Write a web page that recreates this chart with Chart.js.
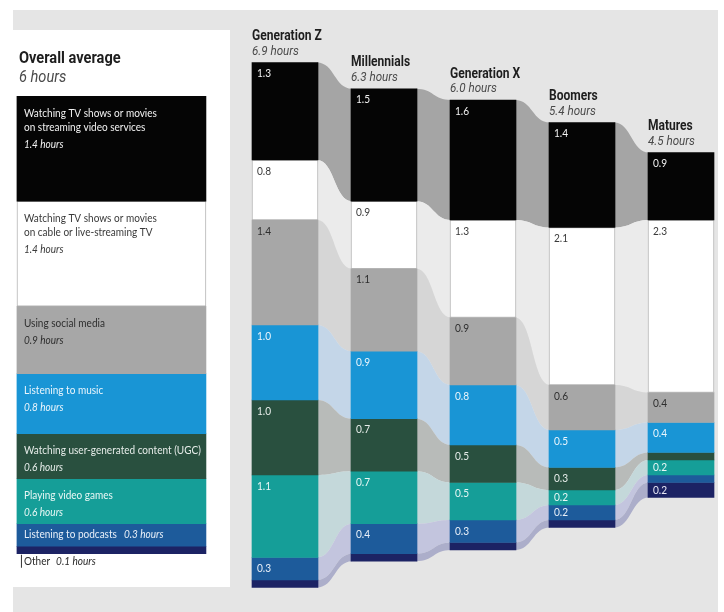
<!DOCTYPE html>
<html>
<head>
<meta charset="utf-8">
<script src="https://cdn.jsdelivr.net/npm/chart.js@4.4.1/dist/chart.umd.min.js"></script>
<style>
  html, body { margin: 0; padding: 0; background: #fff; }
  #wrap { position: relative; width: 724px; height: 612px; overflow: hidden; }
  #bg { position: absolute; left: 13px; top: 10px; width: 705px; height: 602px; background: #e5e5e5; }
  #panel { position: absolute; left: 13px; top: 30px; width: 217px; height: 557px; background: #fff; }
  #chart { position: absolute; left: 0; top: 0; }
</style>
</head>
<body>
<div id="wrap">
  <div id="bg"></div>
  <div id="panel"></div>
  <canvas id="chart" width="724" height="612"></canvas>
</div>
<script>
// data
const generations = ["Generation Z", "Millennials", "Generation X", "Boomers", "Matures"];
const generationTotals = ["6.9", "6.3", "6.0", "5.4", "4.5"];
const categoryLabels = [
  ["Watching TV shows or movies", "on streaming video services"],
  ["Watching TV shows or movies", "on cable or live-streaming TV"],
  ["Using social media"],
  ["Listening to music"],
  ["Watching user-generated content (UGC)"],
  ["Playing video games"],
  ["Listening to podcasts"],
  ["Other"]
];
const overallTotal = "6";
const overall = [1.4, 1.4, 0.9, 0.8, 0.6, 0.6, 0.3, 0.1];

const streaming = [1.3, 1.5, 1.6, 1.4, 0.9];
const cableTv = [0.8, 0.9, 1.3, 2.1, 2.3];
const socialMedia = [1.4, 1.1, 0.9, 0.6, 0.4];
const music = [1.0, 0.9, 0.8, 0.5, 0.4];
const ugc = [1.0, 0.7, 0.5, 0.3, 0.1];
const videoGames = [1.1, 0.7, 0.5, 0.2, 0.2];
const podcasts = [0.3, 0.4, 0.3, 0.2, 0.1];
const other = [0.1, 0.1, 0.1, 0.1, 0.2];

const series = [streaming, cableTv, socialMedia, music, ugc, videoGames, podcasts, other];

// styles
const barColors = ["#050505", "#ffffff", "#a7a7a7", "#1995d5", "#29503f", "#159e98", "#1d5b9b", "#1c2364"];
const flowColors = ["#a5a5a5", "#ebebeb", "#d6d6d6", "#c4d6e8", "#b8bbb9", "#c4d8da", "#c3c5de", "#acaeca"];
const textColors = ["#f2f2f2", "#3a3a3a", "#2e2e2e", "#eaf5fc", "#e6ece9", "#e8f7f5", "#e8eff8", "#e8e8f5"];

const TITLE_FONT = 'Roboto, Lato, sans-serif';
const LABEL_FONT = 'Lato, "Noto Sans", sans-serif';
const OVERALL_X = -1.753;

// stack centred on zero, from the top down
function stackRanges(values) {
  const total = values.reduce((a, b) => a + b, 0);
  let top = total / 2;
  return values.map(v => {
    const r = [top - v, top];
    top -= v;
    return r;
  });
}

const genRanges = generations.map((g, i) => stackRanges(series.map(s => s[i])));
const overallRanges = stackRanges(overall);

const datasets = [];
series.forEach((s, c) => {
  datasets.push({
    label: categoryLabels[c].join(" "),
    data: generations.map((g, i) => ({ x: i, y: genRanges[i][c] })),
    backgroundColor: barColors[c],
    borderColor: c === 1 ? "#b4b4b4" : barColors[c],
    borderWidth: c === 1 ? 1 : 0,
    borderSkipped: false,
    barThickness: 66,
    grouped: false
  });
});
overall.forEach((v, c) => {
  datasets.push({
    label: "overall " + c,
    data: [{ x: OVERALL_X, y: overallRanges[c] }],
    backgroundColor: barColors[c],
    borderColor: c === 1 ? "#b4b4b4" : barColors[c],
    borderWidth: c === 1 ? 1 : 0,
    borderSkipped: false,
    barThickness: 189,
    grouped: false
  });
});

function box(el) {
  const p = el.getProps(["x", "y", "base", "width"], true);
  return {
    left: p.x - p.width / 2,
    right: p.x + p.width / 2,
    top: Math.min(p.y, p.base),
    bottom: Math.max(p.y, p.base)
  };
}

// condensed-looking text: squeeze horizontally
function squeezeText(ctx, text, x, y, sx) {
  ctx.save();
  ctx.translate(x, y);
  ctx.scale(sx, 1);
  ctx.fillText(text, 0, 0);
  const w = ctx.measureText(text).width * sx;
  ctx.restore();
  return w;
}

const flows = {
  id: "flows",
  beforeDatasetsDraw(chart) {
    const ctx = chart.ctx;
    ctx.save();
    series.forEach((s, c) => {
      const meta = chart.getDatasetMeta(c);
      ctx.fillStyle = flowColors[c];
      for (let i = 0; i < meta.data.length - 1; i++) {
        const a = box(meta.data[i]);
        const b = box(meta.data[i + 1]);
        const x1 = a.right - 1, x2 = b.left + 1;
        const xm = (x1 + x2) / 2;
        ctx.beginPath();
        ctx.moveTo(x1, a.top);
        ctx.bezierCurveTo(xm, a.top, xm, b.top, x2, b.top);
        ctx.lineTo(x2, b.bottom);
        ctx.bezierCurveTo(xm, b.bottom, xm, a.bottom, x1, a.bottom);
        ctx.closePath();
        ctx.fill();
      }
    });
    ctx.restore();
  }
};

const labels = {
  id: "labels",
  afterDatasetsDraw(chart) {
    const ctx = chart.ctx;
    ctx.save();
    ctx.textBaseline = "middle";
    ctx.textAlign = "left";

    // values inside the generation bars
    ctx.font = "11px " + LABEL_FONT;
    series.forEach((s, c) => {
      const meta = chart.getDatasetMeta(c);
      meta.data.forEach((el, i) => {
        if (s[i] < 0.2) return;
        const b = box(el);
        const h = b.bottom - b.top;
        ctx.fillStyle = textColors[c];
        squeezeText(ctx, s[i].toFixed(1), b.left + 5, b.top + Math.min(11, h / 2), 0.92);
      });
    });

    // generation headings
    const first = chart.getDatasetMeta(0);
    first.data.forEach((el, i) => {
      const b = box(el);
      ctx.fillStyle = "#1e1e1e";
      ctx.font = "bold 14px " + TITLE_FONT;
      squeezeText(ctx, generations[i], b.left, b.top - 26, 0.86);
      ctx.fillStyle = "#4a4a4a";
      ctx.font = "italic 13.5px " + TITLE_FONT;
      squeezeText(ctx, generationTotals[i] + " hours", b.left, b.top - 11, 0.86);
    });

    // overall panel
    const ov = box(chart.getDatasetMeta(series.length).data[0]);
    ctx.fillStyle = "#1e1e1e";
    ctx.font = "bold 17px " + TITLE_FONT;
    squeezeText(ctx, "Overall average", ov.left + 2, ov.top - 38, 0.86);
    ctx.fillStyle = "#4a4a4a";
    ctx.font = "italic 17px " + TITLE_FONT;
    squeezeText(ctx, overallTotal + " hours", ov.left + 2, ov.top - 19, 0.86);

    overall.forEach((v, c) => {
      const b = box(chart.getDatasetMeta(series.length + c).data[0]);
      const h = b.bottom - b.top;
      const x = b.left + 7;
      const hoursText = v.toFixed(1) + " hours";
      if (h >= 40) {
        ctx.fillStyle = textColors[c];
        ctx.font = "10.5px " + LABEL_FONT;
        let y = b.top + 17;
        categoryLabels[c].forEach((line, k) => {
          squeezeText(ctx, line, x, y + k * 14, 0.955);
        });
        y += (categoryLabels[c].length - 1) * 14 + 17;
        ctx.font = "italic 10.5px " + LABEL_FONT;
        squeezeText(ctx, hoursText, x, y, 0.955);
      } else if (h >= 15) {
        const y = (b.top + b.bottom) / 2;
        ctx.fillStyle = textColors[c];
        ctx.font = "10.5px " + LABEL_FONT;
        const w = squeezeText(ctx, categoryLabels[c][0], x, y, 0.955);
        ctx.font = "italic 10.5px " + LABEL_FONT;
        squeezeText(ctx, hoursText, x + w + 7, y, 0.955);
      } else {
        // small slice: label below the bar with a tick line
        ctx.strokeStyle = "#333";
        ctx.lineWidth = 1;
        ctx.beginPath();
        ctx.moveTo(b.left + 4.5, b.bottom + 1);
        ctx.lineTo(b.left + 4.5, b.bottom + 14);
        ctx.stroke();
        const y = b.bottom + 8;
        ctx.fillStyle = "#2a2a2a";
        ctx.font = "10.5px " + LABEL_FONT;
        const w = squeezeText(ctx, categoryLabels[c][0], x, y, 0.955);
        ctx.font = "italic 10.5px " + LABEL_FONT;
        squeezeText(ctx, hoursText, x + w + 6, y, 0.955);
      }
    });
    ctx.restore();
  }
};

const chart = new Chart(document.getElementById("chart"), {
  type: "bar",
  data: { datasets: datasets },
  options: {
    responsive: false,
    animation: false,
    layout: { padding: 0 },
    plugins: {
      legend: { display: false },
      tooltip: { enabled: false }
    },
    scales: {
      x: { type: "linear", display: false, offset: false, min: -285 / 99, max: (724 - 285) / 99 },
      y: { type: "linear", display: false, min: -287 / 75, max: 325 / 75 }
    }
  },
  plugins: [flows, labels]
});
</script>
</body>
</html>
